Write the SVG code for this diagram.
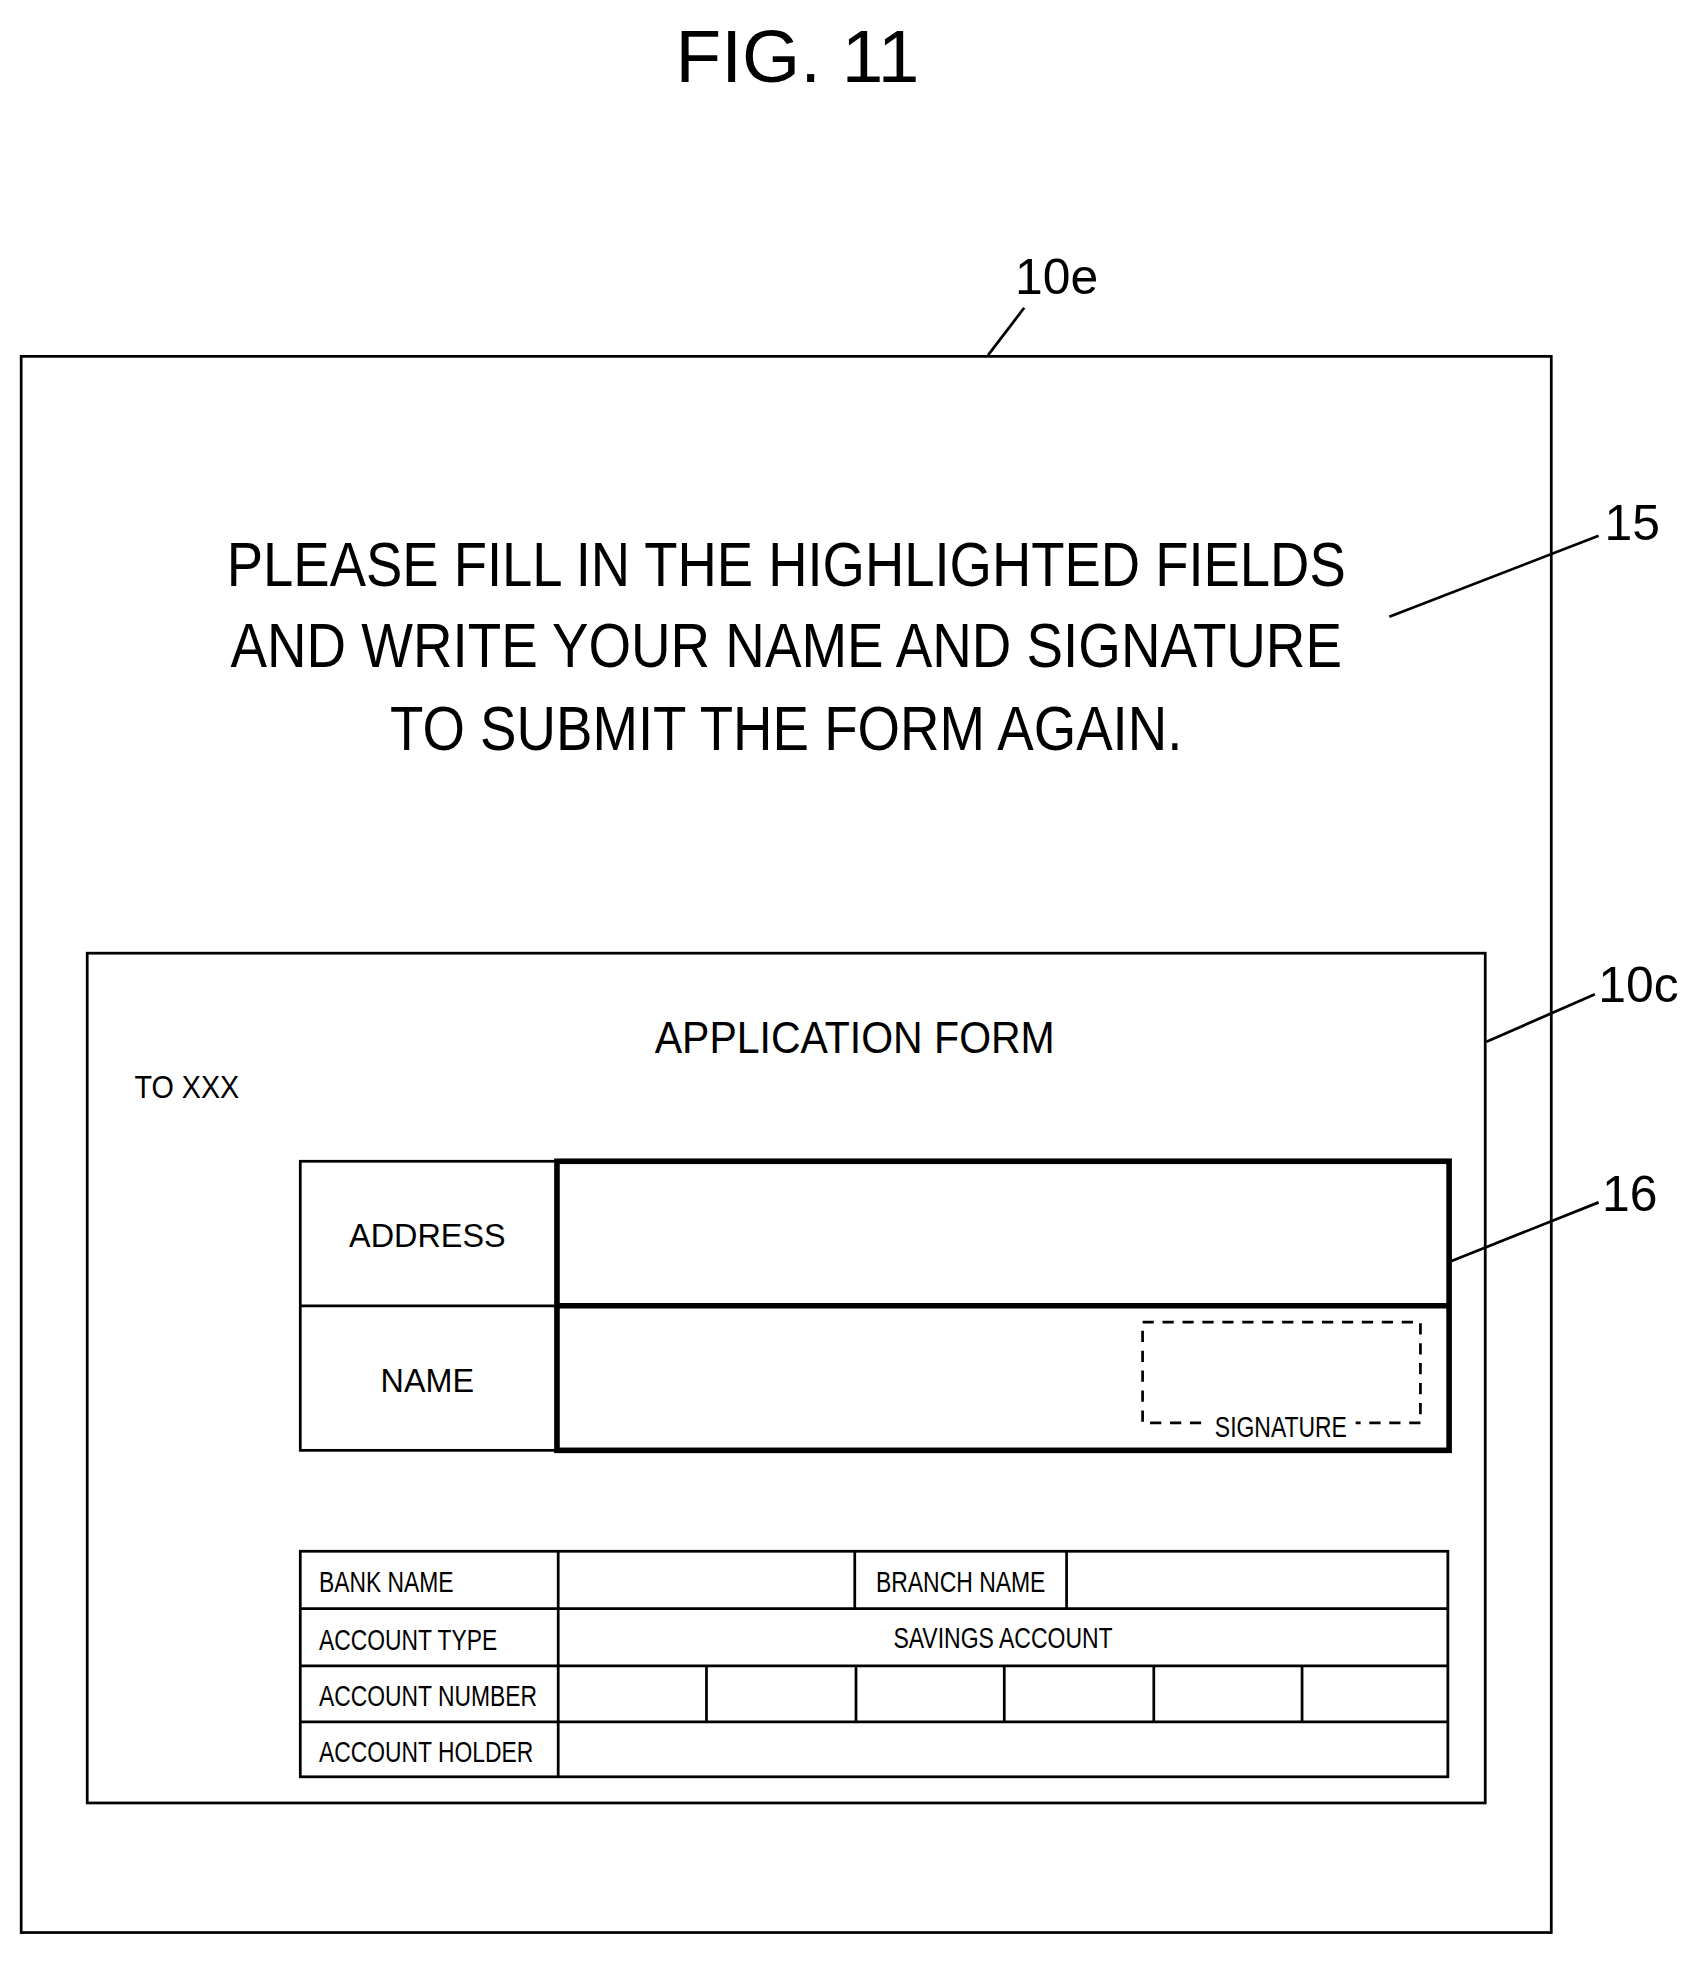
<svg xmlns="http://www.w3.org/2000/svg" width="1702" height="1962" viewBox="0 0 1702 1962">
<style>
.t{font-family:"Liberation Sans",Arial,sans-serif;fill:#000}
.b{fill:none;stroke:#000;stroke-width:2.2}
.k{fill:none;stroke:#000;stroke-width:4.5}
.d{fill:none;stroke:#000;stroke-width:2.2;stroke-dasharray:9 7}
</style>
<rect width="1702" height="1962" fill="#fff"/>
<g transform="scale(1.246)">
<text class="t" x="640" y="66" font-size="60" text-anchor="middle">FIG. 11</text>
<g id="connectors">
<line class="b" x1="793" y1="285" x2="822" y2="247"/>
<line class="b" x1="1115" y1="495" x2="1283" y2="430"/>
<line class="b" x1="1193" y1="836" x2="1280" y2="798"/>
<line class="b" x1="1165" y1="1012" x2="1283" y2="965"/>
</g>
<g id="screen10e">
<rect class="b" x="17" y="286" width="1228" height="1265"/>
<text class="t" x="848" y="236" font-size="40" text-anchor="middle">10e</text>
</g>
<g id="message15">
<text class="t" x="631" y="470" font-size="50" text-anchor="middle" textLength="898" lengthAdjust="spacingAndGlyphs">PLEASE FILL IN THE HIGHLIGHTED FIELDS</text>
<text class="t" x="631" y="535" font-size="50" text-anchor="middle" textLength="892" lengthAdjust="spacingAndGlyphs">AND WRITE YOUR NAME AND SIGNATURE</text>
<text class="t" x="631" y="602" font-size="50" text-anchor="middle" textLength="636" lengthAdjust="spacingAndGlyphs">TO SUBMIT THE FORM AGAIN.</text>
<text class="t" x="1310" y="433" font-size="40" text-anchor="middle">15</text>
</g>
<g id="form10c">
<rect class="b" x="70" y="765" width="1122" height="682"/>
<text class="t" x="1315" y="804" font-size="40" text-anchor="middle">10c</text>
<text class="t" x="686" y="845" font-size="36" text-anchor="middle" textLength="321" lengthAdjust="spacingAndGlyphs">APPLICATION FORM</text>
<text class="t" x="108" y="881" font-size="25" textLength="84" lengthAdjust="spacingAndGlyphs">TO XXX</text>
</g>
<g id="fields16">
<rect class="b" x="241" y="932" width="206" height="232"/>
<line class="b" x1="241" y1="1048" x2="447" y2="1048"/>
<text class="t" x="343" y="1001" font-size="26" text-anchor="middle">ADDRESS</text>
<text class="t" x="343" y="1117" font-size="26" text-anchor="middle">NAME</text>
<rect class="k" x="447" y="932" width="716" height="232"/>
<line class="k" x1="447" y1="1048" x2="1163" y2="1048"/>
<rect class="d" x="917" y="1061" width="223" height="81"/>
<rect x="968" y="1132" width="120" height="20" fill="#fff"/>
<text class="t" x="1028" y="1153" font-size="24" text-anchor="middle" textLength="106" lengthAdjust="spacingAndGlyphs">SIGNATURE</text>
<text class="t" x="1308" y="972" font-size="40" text-anchor="middle">16</text>
</g>
<g id="bankTable">
<rect class="b" x="241" y="1245" width="921" height="181"/>
<line class="b" x1="241" y1="1291" x2="1162" y2="1291"/>
<line class="b" x1="241" y1="1337" x2="1162" y2="1337"/>
<line class="b" x1="241" y1="1382" x2="1162" y2="1382"/>
<line class="b" x1="448" y1="1245" x2="448" y2="1426"/>
<line class="b" x1="686" y1="1245" x2="686" y2="1291"/>
<line class="b" x1="856" y1="1245" x2="856" y2="1291"/>
<line class="b" x1="567" y1="1337" x2="567" y2="1382"/>
<line class="b" x1="687" y1="1337" x2="687" y2="1382"/>
<line class="b" x1="806" y1="1337" x2="806" y2="1382"/>
<line class="b" x1="926" y1="1337" x2="926" y2="1382"/>
<line class="b" x1="1045" y1="1337" x2="1045" y2="1382"/>
<text class="t" x="256" y="1278" font-size="24" textLength="108" lengthAdjust="spacingAndGlyphs">BANK NAME</text>
<text class="t" x="703" y="1278" font-size="24" textLength="136" lengthAdjust="spacingAndGlyphs">BRANCH NAME</text>
<text class="t" x="256" y="1324" font-size="24" textLength="143" lengthAdjust="spacingAndGlyphs">ACCOUNT TYPE</text>
<text class="t" x="805" y="1323" font-size="24" text-anchor="middle" textLength="176" lengthAdjust="spacingAndGlyphs">SAVINGS ACCOUNT</text>
<text class="t" x="256" y="1369" font-size="24" textLength="175" lengthAdjust="spacingAndGlyphs">ACCOUNT NUMBER</text>
<text class="t" x="256" y="1414" font-size="24" textLength="172" lengthAdjust="spacingAndGlyphs">ACCOUNT HOLDER</text>
</g>
</g>
</svg>
